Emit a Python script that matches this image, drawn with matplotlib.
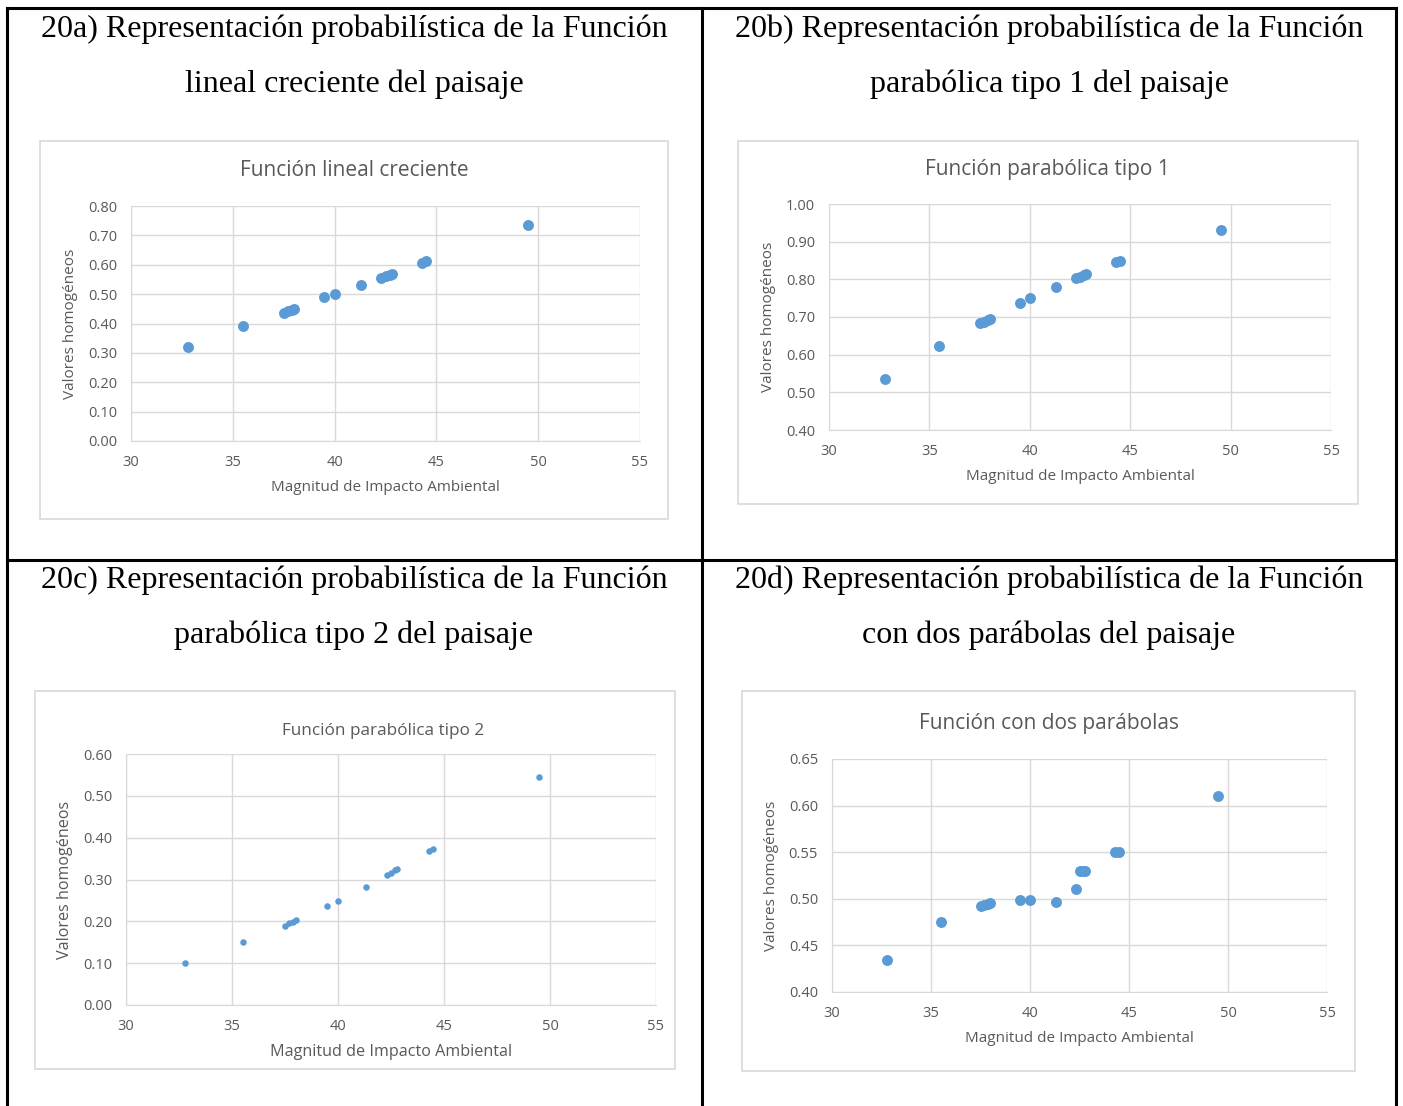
import numpy as np
import matplotlib
matplotlib.use('Agg')
import matplotlib.pyplot as plt
from matplotlib.patches import Rectangle
from matplotlib.lines import Line2D

W, H = 1403, 1106

# magnitudes (x) shared by all four charts
magnitud = [32.8, 35.5, 37.5, 37.7, 37.9, 38.0, 39.5, 40.0, 41.3,
            42.3, 42.5, 42.7, 42.8, 44.3, 44.5, 49.5]

val_lineal = [0.32, 0.39, 0.437, 0.442, 0.447, 0.45, 0.49, 0.50, 0.53,
              0.556, 0.562, 0.566, 0.57, 0.607, 0.612, 0.737]
val_parab1 = [0.535, 0.623, 0.683, 0.688, 0.692, 0.696, 0.737, 0.75, 0.78,
              0.803, 0.807, 0.812, 0.815, 0.845, 0.85, 0.93]
val_parab2 = [0.10, 0.15, 0.19, 0.195, 0.198, 0.202, 0.237, 0.248, 0.282,
              0.31, 0.316, 0.322, 0.325, 0.368, 0.374, 0.545]
val_dos = [0.434, 0.475, 0.492, 0.493, 0.494, 0.495, 0.499, 0.499, 0.497,
           0.51, 0.53, 0.53, 0.53, 0.55, 0.55, 0.61]

titulos_tabla = [
    ('20a) Representación probabilística de la Función', 'lineal creciente del paisaje'),
    ('20b) Representación probabilística de la Función', 'parabólica tipo 1 del paisaje'),
    ('20c) Representación probabilística de la Función', 'parabólica tipo 2 del paisaje'),
    ('20d) Representación probabilística de la Función', 'con dos parábolas del paisaje'),
]
titulos_graf = ['Función lineal creciente', 'Función parabólica tipo 1',
                'Función parabólica tipo 2', 'Función con dos parábolas']
yticks_list = [np.arange(0, 0.81, 0.1), np.arange(0.4, 1.001, 0.1),
               np.arange(0, 0.61, 0.1), np.arange(0.4, 0.651, 0.05)]
series = [val_lineal, val_parab1, val_parab2, val_dos]

BLUE = '#5b9bd5'
GRID = '#d9d9d9'
TXT = '#595959'

fig = plt.figure(figsize=(W / 100, H / 100), dpi=100)
fig.patch.set_facecolor('white')


def fx(px):
    return px / W


def fy(py):
    return 1 - py / H


def line(x0, y0, x1, y1, lw=2.2):
    fig.add_artist(Line2D([fx(x0), fx(x1)], [fy(y0), fy(y1)], color='black', lw=lw))


# table borders
line(7, 8, 1396, 8)
line(7, 8, 7, 1106)
line(1396, 8, 1396, 1106)
line(702, 8, 702, 1106)
line(7, 560, 1396, 560)

# table cell titles (centre x, y line1, y line2)
cell_title_pos = [(354, 29, 84), (1049, 29, 84), (354, 580, 635), (1049, 580, 635)]
for (t1, t2), (cx, y1, y2) in zip(titulos_tabla, cell_title_pos):
    fig.text(fx(cx), fy(y1), t1, ha='center', va='center', fontsize=23,
             family='Liberation Serif', color='black')
    fig.text(fx(cx), fy(y2), t2, ha='center', va='center', fontsize=23,
             family='Liberation Serif', color='black')

# chart frames: (box l, t, r, b), (plot l, t, r, b), title (x, y), marker size,
# title size, axis label size
layouts = [
    ((40, 141, 668, 519), (131, 206, 640, 441), (354, 170), 62, 15, 11),
    ((738, 141, 1358, 504), (829, 204, 1331, 430), (1047, 170), 62, 15, 11),
    ((35, 691, 675, 1069), (126, 754, 656, 1005), (383, 731), 22, 12.3, 11.6),
    ((742, 691, 1355, 1071), (832, 759, 1327, 992), (1049, 723), 62, 15, 11),
]

for i, (box, plot, tpos, ms, tsz, lsz) in enumerate(layouts):
    bl, bt, br, bb = box
    fig.patches.append(Rectangle((fx(bl), fy(bb)), fx(br - bl), (bb - bt) / H,
                                 transform=fig.transFigure, facecolor='white',
                                 edgecolor=GRID, lw=1.2, zorder=-5))
    pl, pt, pr, pb = plot
    ax = fig.add_axes([fx(pl), fy(pb), fx(pr - pl), (pb - pt) / H], zorder=2)
    ax.patch.set_alpha(0)
    ax.scatter(magnitud, series[i], s=ms, color=BLUE, zorder=3, linewidths=0)
    yt = yticks_list[i]
    ax.set_xlim(30, 55)
    ax.set_ylim(yt[0], yt[-1])
    ax.set_xticks([30, 35, 40, 45, 50, 55])
    ax.set_yticks(yt)
    ax.set_yticklabels(['%.2f' % v for v in yt])
    ax.grid(True, color=GRID, lw=1)
    ax.set_axisbelow(True)
    for s in ['top', 'right']:
        ax.spines[s].set_visible(False)
    for s in ['left', 'bottom']:
        ax.spines[s].set_color(GRID)
    ax.tick_params(length=0, labelsize=10.5, labelcolor=TXT, pad=10)
    for lab in ax.get_xticklabels() + ax.get_yticklabels():
        lab.set_family('Open Sans')
    ax.set_xlabel('Magnitud de Impacto Ambiental', fontsize=lsz, color=TXT,
                  family='Open Sans', labelpad=7)
    ax.set_ylabel('Valores homogéneos', fontsize=lsz, color=TXT,
                  family='Open Sans', labelpad=7)
    fig.text(fx(tpos[0]), fy(tpos[1]), titulos_graf[i], ha='center', va='center',
             fontsize=tsz, color=TXT, family='Open Sans')

fig.savefig('out.png', dpi=100)
